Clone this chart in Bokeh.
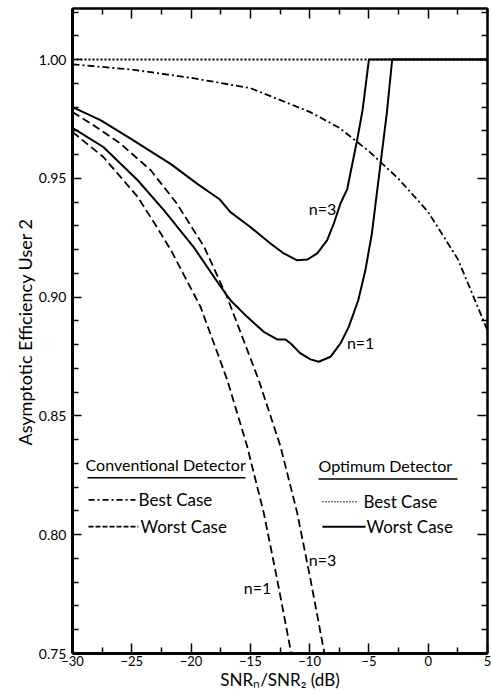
from bokeh.plotting import figure
from bokeh.models import LinearAxis, FixedTicker, PrintfTickFormatter, Range1d, Label, Title
from bokeh.embed import file_html
from bokeh.resources import INLINE

# ---------------- data ----------------
x_ticks = [-30, -25, -20, -15, -10, -5, 0, 5]
x_minor = [-27.5, -22.5, -17.5, -12.5, -7.5, -2.5, 2.5]
y_ticks = [0.75, 0.80, 0.85, 0.90, 0.95, 1.00]
y_minor = [0.76, 0.77, 0.78, 0.79, 0.81, 0.82, 0.83, 0.84, 0.86, 0.87, 0.88, 0.89,
           0.91, 0.92, 0.93, 0.94, 0.96, 0.97, 0.98, 0.99, 1.01, 1.02]

# Optimum detector, best case (dotted)
opt_best_x = [-30, 5]
opt_best_y = [1.0, 1.0]

# Conventional detector, best case (dash-dot)
conv_best_x = [-30, -25, -20, -15, -10, -7.5, -5, -2.5, 0, 2.5, 5]
conv_best_y = [0.998, 0.9958, 0.9923, 0.988, 0.978, 0.9713, 0.9614, 0.9498, 0.9358, 0.916, 0.886]

# Optimum detector, worst case, n=3 (solid)
opt_n3_x = [-30, -27.6, -25.1, -21.7, -19.5, -17.6, -16.68, -15.0, -13.3, -12.18, -11.05,
            -10.2, -9.36, -8.52, -7.96, -7.4, -6.83, -6.0, -5.54, -5.0, 5]
opt_n3_y = [0.980, 0.9744, 0.9667, 0.956, 0.9478, 0.9412, 0.9358, 0.9295, 0.9226, 0.9184, 0.9155,
            0.9158, 0.9184, 0.924, 0.931, 0.9394, 0.9455, 0.966, 0.9786, 1.0, 1.0]

# Optimum detector, worst case, n=1 (solid)
opt_n1_x = [-30, -27.4, -24.5, -22.3, -19.8, -17.5, -16.68, -15.27, -13.87, -12.74, -12.04,
            -11.6, -10.77, -9.93, -9.23, -8.24, -7.4, -6.7, -5.9, -5.3, -4.75, -4.3, -4.0,
            -3.5, -3.04, 5]
opt_n1_y = [0.9713, 0.9632, 0.9492, 0.9366, 0.9212, 0.9044, 0.8987, 0.8917, 0.8854, 0.8822, 0.8822,
            0.8805, 0.8763, 0.8738, 0.8728, 0.8749, 0.8805, 0.8875, 0.8987, 0.9113, 0.9268, 0.945, 0.957,
            0.977, 1.0, 1.0]

# Conventional detector, worst case, n=3 (dashed)
conv_n3_x = [-30, -28.2, -25.95, -23.4, -21.2, -18.9, -16.96, -14.3, -12.46, -11.05, -9.93, -8.75]
conv_n3_y = [0.9779, 0.9723, 0.9646, 0.9534, 0.9394, 0.9212, 0.900, 0.8652, 0.8372, 0.8092, 0.7812, 0.75]

# Conventional detector, worst case, n=1 (dashed)
conv_n1_x = [-30, -27.4, -24.5, -22.9, -21.7, -19.2, -16.95, -15.27, -13.87, -12.74, -11.55]
conv_n1_y = [0.9695, 0.959, 0.9422, 0.9296, 0.9198, 0.8959, 0.8652, 0.8372, 0.8092, 0.7812, 0.75]

# ---------------- figure ----------------
FONT = "Lato"

p = figure(width=492, height=692, x_range=Range1d(-30, 5), y_range=Range1d(0.75, 1.0215),
           output_backend="svg", toolbar_location=None,
           min_border_left=72, min_border_right=5, min_border_top=8, min_border_bottom=37)
p.grid.visible = False
p.outline_line_color = None
p.background_fill_color = "white"
p.border_fill_color = "white"


def style_axis(ax, width, tick_in, minor_in):
    ax.axis_line_width = width
    ax.axis_line_color = "black"
    ax.major_tick_in = tick_in
    ax.major_tick_out = 0
    ax.minor_tick_in = minor_in
    ax.minor_tick_out = 0
    ax.major_tick_line_width = 1.5
    ax.minor_tick_line_width = 1.5
    ax.major_tick_line_color = "black"
    ax.minor_tick_line_color = "black"


p.xaxis.ticker = FixedTicker(ticks=x_ticks, minor_ticks=x_minor)
p.yaxis.ticker = FixedTicker(ticks=y_ticks, minor_ticks=y_minor)
p.yaxis.formatter = PrintfTickFormatter(format="%.2f")
style_axis(p.xaxis[0], 3, 10, 6)
style_axis(p.yaxis[0], 3, 9, 6)
p.xaxis.major_label_text_font = FONT
p.xaxis.major_label_text_font_size = "13px"
p.yaxis.major_label_text_font = FONT
p.yaxis.major_label_text_font_size = "14px"
p.xaxis.major_label_text_color = "black"
p.yaxis.major_label_text_color = "black"
p.xaxis.major_label_standoff = 2
p.yaxis.major_label_standoff = 6
p.xaxis.axis_label = "SNR\u2099/SNR\u2082 (dB)"
p.xaxis.axis_label_text_font = FONT
p.xaxis.axis_label_text_font_size = "17px"
p.xaxis.axis_label_text_font_style = "normal"
p.xaxis.axis_label_text_color = "black"
p.xaxis.axis_label_standoff = 0

# y-axis title: a left-side Title so that it can sit a little above centre, as in the original
p.add_layout(Title(text="Asymptotic  Efficiency  User 2", align="left", offset=208,
                   text_font=FONT, text_font_size="18px", text_font_style="normal",
                   text_color="black", standoff=0), "left")

# mirrored, unlabelled tick axes on top and right (ticks drawn as "minor" ticks only)
for loc, major, minor in (("above", x_ticks, x_minor), ("right", y_ticks, y_minor)):
    a1 = LinearAxis(ticker=FixedTicker(ticks=[], minor_ticks=major))
    style_axis(a1, 2, 0, 10)
    a1.major_label_standoff = 0
    p.add_layout(a1, loc)
    a2 = LinearAxis(ticker=FixedTicker(ticks=[], minor_ticks=minor))
    style_axis(a2, 2, 0, 6)
    a2.major_label_standoff = 0
    p.add_layout(a2, loc)

# ---------------- curves ----------------
p.line(opt_best_x, opt_best_y, line_color="black", line_width=2, line_dash="2 2")
p.line(conv_best_x, conv_best_y, line_color="black", line_width=1.8, line_dash="7 3 2 3")
p.line(opt_n3_x, opt_n3_y, line_color="black", line_width=2)
p.line(opt_n1_x, opt_n1_y, line_color="black", line_width=2)
p.line(conv_n3_x, conv_n3_y, line_color="black", line_width=1.8, line_dash="8 4")
p.line(conv_n1_x, conv_n1_y, line_color="black", line_width=1.8, line_dash="8 4")


# ---------------- labels ----------------
def lab(x, y, t, size="16px", align="center"):
    p.add_layout(Label(x=x, y=y, text=t, text_font=FONT, text_font_size=size,
                       text_align=align, text_baseline="middle", text_color="black"))


lab(-8.92, 0.9374, "n=3")
lab(-5.7, 0.8807, "n=1")
lab(-8.92, 0.7895, "n=3")
lab(-14.4, 0.7777, "n=1")

# ---------------- hand-drawn legend ----------------
lab(-28.9, 0.8294, "Conventional Detector", size="16px", align="left")
p.line([-28.73, -15.41], [0.8240, 0.8240], line_color="black", line_width=1.5)
p.line([-28.65, -24.7], [0.8147, 0.8147], line_color="black", line_width=1.8, line_dash="6 3 2 3")
lab(-24.43, 0.8147, "Best  Case", size="17px", align="left")
p.line([-28.65, -24.45], [0.8034, 0.8034], line_color="black", line_width=1.8, line_dash="5 2")
lab(-24.26, 0.8034, "Worst  Case", size="17px", align="left")

lab(-9.25, 0.8290, "Optimum  Detector", size="16px", align="left")
p.line([-9.25, 2.47], [0.8235, 0.8235], line_color="black", line_width=1.5)
p.line([-8.92, -5.96], [0.8139, 0.8139], line_color="black", line_width=1.5, line_dash="1 2")
lab(-5.46, 0.8139, "Best  Case", size="17px", align="left")
p.line([-8.92, -5.29], [0.8034, 0.8034], line_color="black", line_width=2)
lab(-5.2, 0.8034, "Worst  Case", size="17px", align="left")

open("out.html", "w").write(file_html(p, INLINE))
